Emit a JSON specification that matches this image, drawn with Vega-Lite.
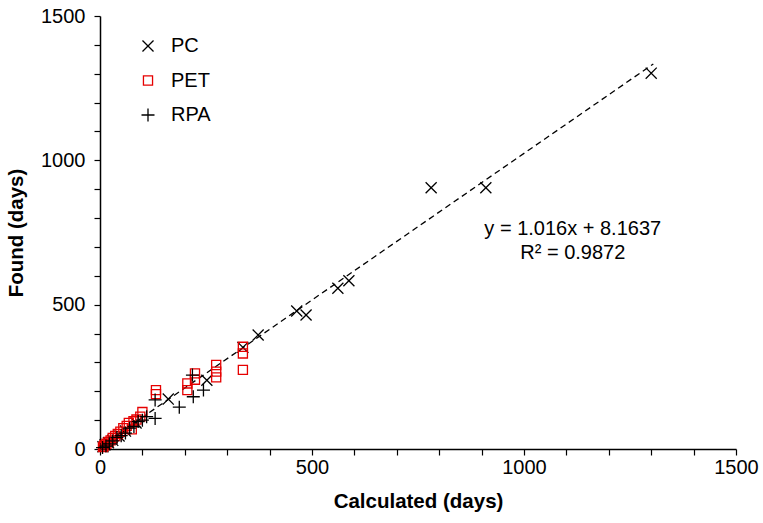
{
  "$schema": "https://vega.github.io/schema/vega-lite/v6.json",
  "width": 636,
  "height": 433,
  "autosize": {"type": "none"},
  "padding": {"left": 100, "top": 16, "right": 27, "bottom": 74},
  "background": "white",
  "config": {
    "view": {"stroke": null},
    "font": "Liberation Sans",
    "axis": {
      "domainColor": "black",
      "domainWidth": 1.5,
      "tickColor": "black",
      "tickWidth": 1.2,
      "tickSize": 6,
      "grid": false,
      "labelFont": "Liberation Sans",
      "labelFontSize": 20,
      "labelColor": "black",
      "labelOverlap": false,
      "labelFlush": false,
      "labelBound": false,
      "format": "d",
      "titleFont": "Liberation Sans",
      "titleFontSize": 20.5,
      "titleFontWeight": "bold",
      "titleColor": "black"
    },
    "axisY": {"labelOverlap": false},
    "axisLeft": {"labelOverlap": false}
  },
  "datasets": {
    "points": [
      {"method": "PC", "calc": 1300, "found": 1302},
      {"method": "PC", "calc": 781, "found": 905},
      {"method": "PC", "calc": 910, "found": 905},
      {"method": "PC", "calc": 587, "found": 583},
      {"method": "PC", "calc": 561, "found": 557},
      {"method": "PC", "calc": 486, "found": 464},
      {"method": "PC", "calc": 464, "found": 478},
      {"method": "PC", "calc": 373, "found": 395},
      {"method": "PC", "calc": 337, "found": 352},
      {"method": "PC", "calc": 252, "found": 238},
      {"method": "PC", "calc": 161, "found": 173},
      {"method": "PC", "calc": 85, "found": 90},
      {"method": "PC", "calc": 60, "found": 62},
      {"method": "PC", "calc": 45, "found": 45},
      {"method": "PC", "calc": 30, "found": 30},
      {"method": "PC", "calc": 20, "found": 22},
      {"method": "PC", "calc": 12, "found": 15},
      {"method": "PC", "calc": 7, "found": 8},
      {"method": "PET", "calc": 337, "found": 354},
      {"method": "PET", "calc": 337, "found": 331},
      {"method": "PET", "calc": 337, "found": 274},
      {"method": "PET", "calc": 274, "found": 291},
      {"method": "PET", "calc": 274, "found": 268},
      {"method": "PET", "calc": 274, "found": 248},
      {"method": "PET", "calc": 224, "found": 262},
      {"method": "PET", "calc": 224, "found": 240},
      {"method": "PET", "calc": 206, "found": 227},
      {"method": "PET", "calc": 206, "found": 204},
      {"method": "PET", "calc": 132, "found": 204},
      {"method": "PET", "calc": 132, "found": 190},
      {"method": "PET", "calc": 100, "found": 128},
      {"method": "PET", "calc": 95, "found": 112},
      {"method": "PET", "calc": 86, "found": 102},
      {"method": "PET", "calc": 79, "found": 96},
      {"method": "PET", "calc": 75, "found": 68},
      {"method": "PET", "calc": 68, "found": 90},
      {"method": "PET", "calc": 63, "found": 80},
      {"method": "PET", "calc": 55, "found": 72},
      {"method": "PET", "calc": 48, "found": 60},
      {"method": "PET", "calc": 42, "found": 52},
      {"method": "PET", "calc": 36, "found": 45},
      {"method": "PET", "calc": 30, "found": 38},
      {"method": "PET", "calc": 25, "found": 30},
      {"method": "PET", "calc": 20, "found": 24},
      {"method": "PET", "calc": 15, "found": 18},
      {"method": "PET", "calc": 10, "found": 12},
      {"method": "PET", "calc": 7, "found": 7},
      {"method": "RPA", "calc": 244, "found": 204},
      {"method": "RPA", "calc": 220, "found": 181},
      {"method": "RPA", "calc": 218, "found": 256},
      {"method": "RPA", "calc": 187, "found": 145},
      {"method": "RPA", "calc": 130, "found": 170},
      {"method": "RPA", "calc": 130, "found": 106},
      {"method": "RPA", "calc": 110, "found": 112},
      {"method": "RPA", "calc": 100, "found": 100},
      {"method": "RPA", "calc": 90, "found": 95},
      {"method": "RPA", "calc": 80, "found": 78},
      {"method": "RPA", "calc": 70, "found": 72},
      {"method": "RPA", "calc": 60, "found": 55},
      {"method": "RPA", "calc": 50, "found": 46},
      {"method": "RPA", "calc": 40, "found": 40},
      {"method": "RPA", "calc": 30, "found": 28},
      {"method": "RPA", "calc": 22, "found": 18},
      {"method": "RPA", "calc": 14, "found": 10},
      {"method": "RPA", "calc": 6, "found": 5}
    ],
    "fit": [
      {"calc": 0, "found": 8.16},
      {"calc": 1305, "found": 1334}
    ],
    "notes": [
      {"calc": 1115, "found": 762, "label": "y = 1.016x + 8.1637"},
      {"calc": 1115, "found": 679, "label": "R² = 0.9872"}
    ]
  },
  "encoding": {
    "x": {
      "field": "calc", "type": "quantitative",
      "scale": {"domain": [0, 1500], "nice": false},
      "axis": {
        "title": "Calculated (days)",
        "titlePadding": 14,
        "values": [0, 100, 200, 300, 400, 500, 600, 700, 800, 900, 1000, 1100, 1200, 1300, 1400, 1500],
        "labelExpr": "datum.value % 500 === 0 ? datum.label : ''",
        "labelOverlap": false,
        "labelPadding": 2,
        "encode": {"ticks": {"update": {"y2": {"signal": "datum.value % 500 === 0 ? 6 : -5"}}}}
      }
    },
    "y": {
      "field": "found", "type": "quantitative",
      "scale": {"domain": [0, 1500], "nice": false},
      "axis": {
        "title": "Found (days)",
        "titlePadding": 14,
        "values": [0, 100, 200, 300, 400, 500, 600, 700, 800, 900, 1000, 1100, 1200, 1300, 1400, 1500],
        "labelExpr": "datum.value % 500 === 0 ? datum.label : ''",
        "labelOverlap": false,
        "labelPadding": 9,
        "encode": {"ticks": {"update": {"x2": {"signal": "datum.value % 500 === 0 ? -6 : 5"}}}}
      }
    }
  },
  "layer": [
    {
      "data": {"name": "fit"},
      "mark": {"type": "line", "color": "black", "strokeWidth": 1.3, "strokeDash": [6, 4]}
    },
    {
      "data": {"name": "points"},
      "mark": {"type": "point", "filled": false, "strokeWidth": 1.3, "opacity": 1, "size": 169},
      "encoding": {
        "color": {
          "field": "method", "type": "nominal",
          "scale": {"domain": ["PC", "PET", "RPA"], "range": ["black", "#e60000", "black"]},
          "legend": {
            "title": null,
            "orient": "none",
            "legendX": 38,
            "legendY": 20,
            "padding": 0,
            "labelFont": "Liberation Sans",
            "labelFontSize": 20,
            "labelColor": "black",
            "labelOffset": 13,
            "rowPadding": 14.5,
            "symbolSize": 169,
            "symbolStrokeWidth": 1.3
          }
        },
        "shape": {
          "field": "method", "type": "nominal",
          "scale": {"domain": ["PC", "PET", "RPA"], "range": ["M-0.85,-0.85L0.85,0.85M0.85,-0.85L-0.85,0.85", "M-0.7,-0.7L0.7,-0.7L0.7,0.7L-0.7,0.7Z", "M-1,0L1,0M0,-1L0,1"]}
        }
      }
    },
    {
      "data": {"name": "notes"},
      "mark": {"type": "text", "font": "Liberation Sans", "fontSize": 20, "color": "black", "align": "center", "baseline": "middle"},
      "encoding": {
        "text": {"field": "label"}
      }
    }
  ]
}
